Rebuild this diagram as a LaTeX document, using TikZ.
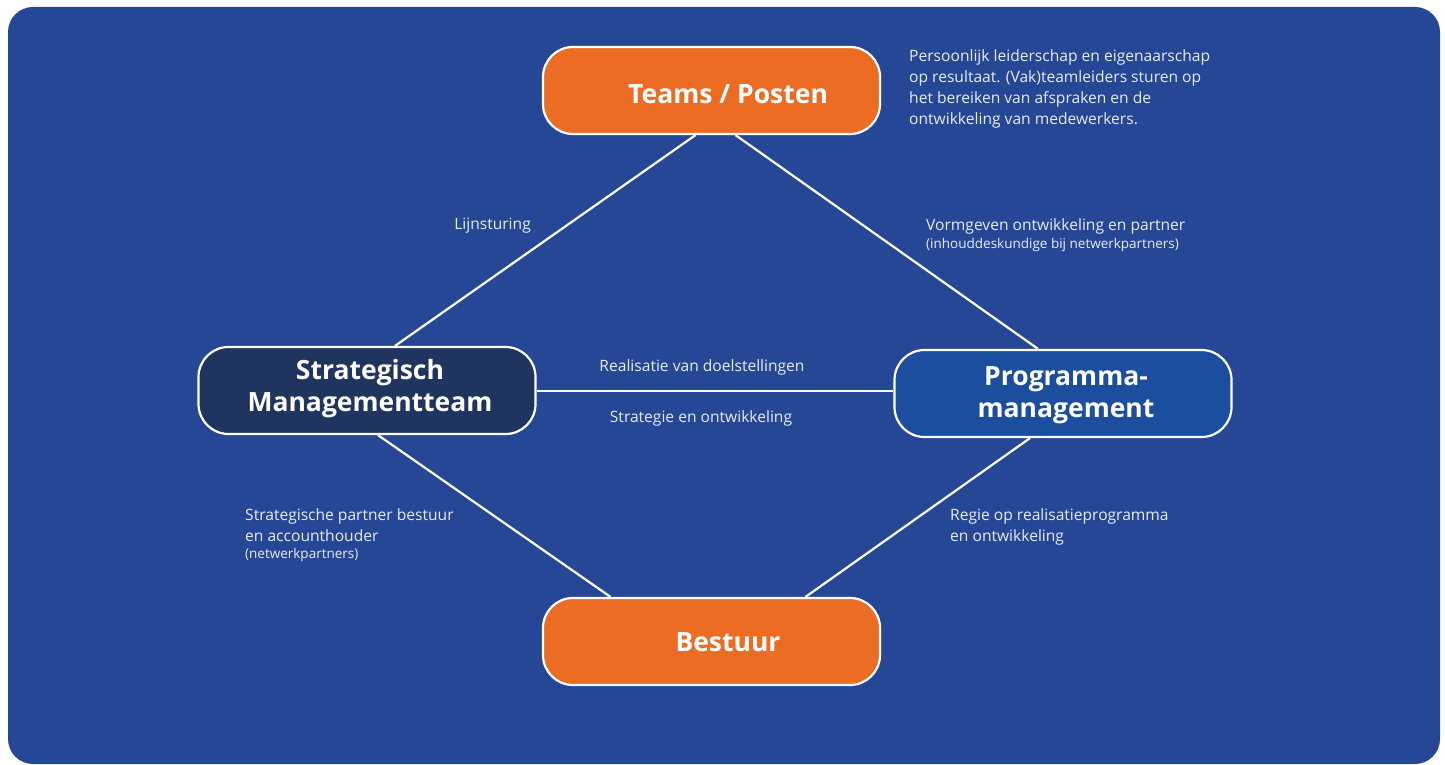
\documentclass[tikz,border=0pt]{standalone}
\usepackage{fontspec}
\setmainfont{Open Sans}
\begin{document}
\definecolor{bgblue}{RGB}{38,71,150}
\definecolor{orng}{RGB}{236,108,36}
\definecolor{navy}{RGB}{31,53,96}
\definecolor{pmblue}{RGB}{28,78,160}
\definecolor{txt}{RGB}{232,236,246}
\begin{tikzpicture}[x=1pt,y=-1pt,
  box/.style={draw=white,line width=2.2pt,rounded corners=30pt,minimum width=337pt,minimum height=87pt,inner sep=0pt},
  title/.style={text=white,font=\fontsize{26.5}{32}\selectfont\bfseries,align=center},
  body/.style={text=txt,font=\fontsize{15.6}{21}\selectfont,align=left,anchor=north west,inner sep=0pt},
  small/.style={text=txt,font=\fontsize{13.5}{15}\selectfont,anchor=north west,inner sep=0pt},
  conn/.style={draw=white,line width=2.2pt}]
\useasboundingbox (0,0) rectangle (1445,765);
\fill[white] (0,0) rectangle (1445,765);
\fill[bgblue,rounded corners=25pt] (8,7) rectangle (1440,764);

\node[box,fill=orng] (teams) at (711.5,90.5) {};
\node[box,fill=navy] (smt) at (367,390.5) {};
\node[box,fill=pmblue] (pm) at (1063,393.5) {};
\node[box,fill=orng] (best) at (711.5,641.5) {};

\draw[conn] ([xshift=-16pt]teams.south) -- ([xshift=28pt]smt.north);
\draw[conn] ([xshift=24pt]teams.south) -- ([xshift=-25pt]pm.north);
\draw[conn] ([yshift=-0.5pt]smt.east) -- ([yshift=2.5pt]pm.west);
\draw[conn] ([xshift=11pt]smt.south) -- ([xshift=-101pt]best.north);
\draw[conn] ([xshift=-33pt]pm.south) -- ([xshift=94pt]best.north);

\node[title] (tteams) at (728,94) {Teams / Posten};
\node[title] (tsmt) at (370,389) {Strategisch\\Managementteam};
\node[title] (tpm) at (1066,395) {Programma-\\management};
\node[title] (tbest) at (728,642) {Bestuur};

\node[body] (pers) at (909,49) {Persoonlijk leiderschap en eigenaarschap\\op resultaat. (Vak)teamleiders sturen op\\het bereiken van afspraken en de\\ontwikkeling van medewerkers.};
\node[body,anchor=north east] (lijn) at (531,218) {Lijnsturing};
\node[body] (vorm) at (926,218) {Vormgeven ontwikkeling en partner};
\node[small] (inh) at (926,238) {(inhouddeskundige bij netwerkpartners)};
\node[body,anchor=center] (real) at (702,367) {Realisatie van doelstellingen};
\node[body,anchor=center] (strat) at (701,418) {Strategie en ontwikkeling};
\node[body] (sp) at (245,508) {Strategische partner bestuur\\en accounthouder};
\node[small] (netw) at (245,548) {(netwerkpartners)};
\node[body] (regie) at (950,508) {Regie op realisatieprogramma\\en ontwikkeling};
\end{tikzpicture}
\end{document}
